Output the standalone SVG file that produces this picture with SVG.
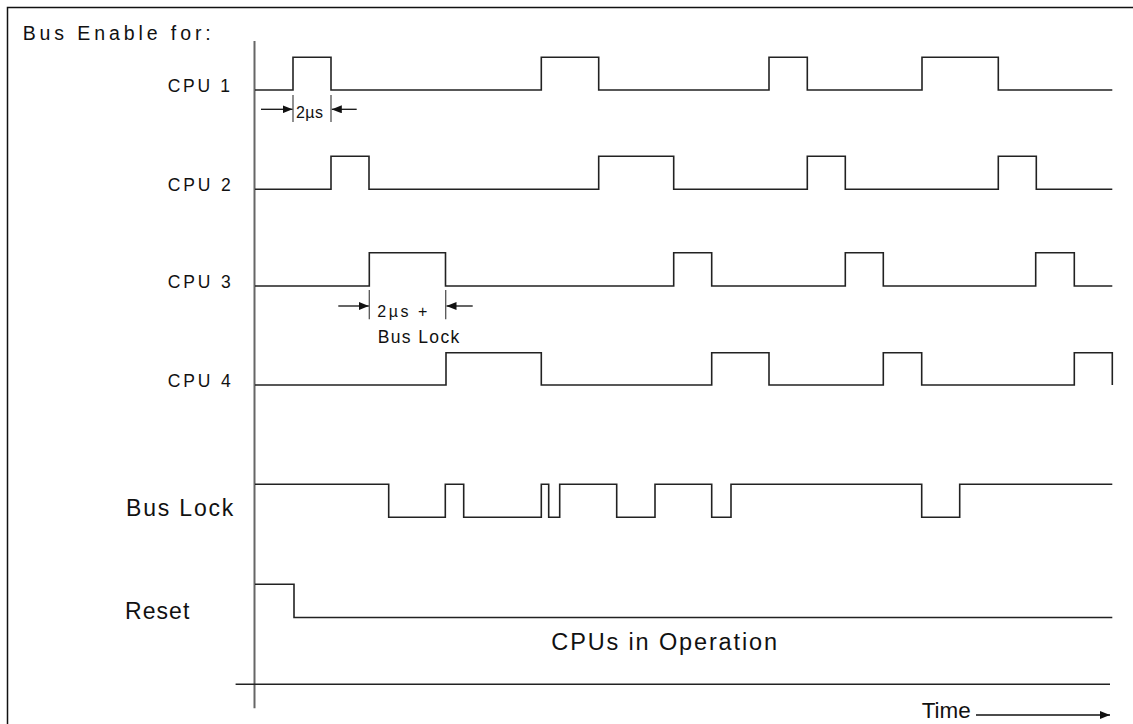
<svg xmlns="http://www.w3.org/2000/svg" width="1133" height="724" viewBox="0 0 1133 724">
<style>
  .bg { fill: #ffffff; }
  .frame { fill: none; stroke: #111; stroke-width: 1.5; }
  .axis { fill: none; stroke: #666; stroke-width: 2; }
  .wave { fill: none; stroke: #222; stroke-width: 1.6; }
  .dim { fill: none; stroke: #111; stroke-width: 1.3; }
  .tick { fill: none; stroke: #555; stroke-width: 1.3; }
  text { font-family: "Liberation Sans", Arial, sans-serif; fill: #111; }
  .t17 { font-size: 17.5px; }
  .t16 { font-size: 16px; }
  .t23 { font-size: 23px; }
</style>
<defs>
  <marker id="ah" viewBox="0 0 10 8" refX="10" refY="4" markerWidth="10" markerHeight="8" markerUnits="userSpaceOnUse" orient="auto">
    <path d="M0,0 L10,4 L0,8 Z" fill="#111"/>
  </marker>
</defs>
<rect class="bg" x="0" y="0" width="1133" height="724"/>
<path class="frame" d="M7.5,724 V7.5 H1133"/>
<text x="22.7" y="40" style="font-size:19.5px" textLength="188">Bus Enable for:</text>

<g id="axes">
  <path class="axis" d="M254.5,41 V708.3"/>
  <path class="wave" d="M235.6,684.3 H1110"/>
</g>

<g id="cpu1">
  <text class="t17" x="167.7" y="91.7" textLength="62.3">CPU 1</text>
  <path class="wave" d="M255,90 H293 V57.3 H331 V90 H541.3 V57.3 H598.7 V90 H769 V57.3 H807.3 V90 H922 V57.3 H998.3 V90 H1112.3"/>
</g>
<g id="cpu2">
  <text class="t17" x="167.7" y="190.5" textLength="63">CPU 2</text>
  <path class="wave" d="M255,189.3 H331 V156.3 H369 V189.3 H598.7 V156.3 H673.7 V189.3 H807.3 V156.3 H845.3 V189.3 H998.3 V156.3 H1036.3 V189.3 H1112.3"/>
</g>
<g id="cpu3">
  <text class="t17" x="167.7" y="287.5" textLength="63">CPU 3</text>
  <path class="wave" d="M255,286 H369.3 V252.7 H445.5 V286 H673.7 V252.7 H711.7 V286 H845.3 V252.7 H883.3 V286 H1035.7 V252.7 H1074.3 V286 H1112.3"/>
</g>
<g id="cpu4">
  <text class="t17" x="167.7" y="386.5" textLength="63">CPU 4</text>
  <path class="wave" d="M255,385 H446 V352.7 H541.3 V385 H711.7 V352.7 H769 V385 H883.3 V352.7 H921.7 V385 H1074.3 V352.7 H1112.3 V385"/>
</g>
<g id="buslock">
  <text class="t23" x="126" y="516" textLength="107.3">Bus Lock</text>
  <path class="wave" d="M255,484.3 H388.7 V517.3 H445.3 V484.3 H463.7 V517.3 H541.3 V484.3 H548.7 V517.3 H559.7 V484.3 H616.7 V517.3 H655 V484.3 H711.7 V517.3 H731 V484.3 H921.7 V517.3 H959.7 V484.3 H1112.3"/>
</g>
<g id="reset">
  <text class="t23" x="125" y="619.3" textLength="64.3">Reset</text>
  <path class="wave" d="M255,584.3 H294 V617.5 H1112.3"/>
  <text x="551.3" y="650" style="font-size:23.5px" textLength="225.7">CPUs in Operation</text>
</g>
<g id="time">
  <text x="921.7" y="717.5" style="font-size:22px" textLength="49" lengthAdjust="spacingAndGlyphs">Time</text>
</g>

<g id="connectors">
  <path class="dim" d="M976,715 H1110" marker-end="url(#ah)"/>
  <path class="tick" d="M293,95 V122 M331,95 V122"/>
  <path class="dim" d="M261,109.3 H292.5" marker-end="url(#ah)"/>
  <path class="dim" d="M356.7,109.3 H331.8" marker-end="url(#ah)"/>
  <path class="tick" d="M369.3,290 V319.3 M445.7,290 V319.3"/>
  <path class="dim" d="M338.3,306 H368.8" marker-end="url(#ah)"/>
  <path class="dim" d="M472.7,306 H446.5" marker-end="url(#ah)"/>
</g>
<g id="dim-labels">
  <text class="t16" x="296" y="118.3" textLength="27">2µs</text>
  <text class="t16" x="377.3" y="317.3" textLength="50">2µs +</text>
  <text class="t17" x="377.7" y="343.3" textLength="81.6">Bus Lock</text>
</g>
</svg>
